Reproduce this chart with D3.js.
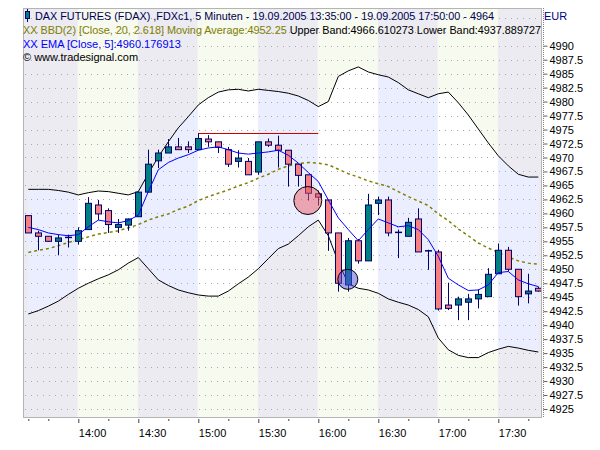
<!DOCTYPE html>
<html><head><meta charset="utf-8">
<script src="https://cdn.jsdelivr.net/npm/d3@7"></script>
<style>body{margin:0;background:#fff} svg{display:block} text{font-family:"Liberation Sans",Arial,sans-serif;font-size:11px}</style>
</head><body>
<svg id="c" width="600" height="450"></svg>
<script>
// ---------- data ----------
const times = ["13:35","13:40","13:45","13:50","13:55","14:00","14:05","14:10","14:15","14:20","14:25","14:30","14:35","14:40","14:45","14:50","14:55","15:00","15:05","15:10","15:15","15:20","15:25","15:30","15:35","15:40","15:45","15:50","15:55","16:00","16:05","16:10","16:15","16:20","16:25","16:30","16:35","16:40","16:45","16:50","16:55","17:00","17:05","17:10","17:15","17:20","17:25","17:30","17:35","17:40","17:45","17:50"];
const open  = [4959.6,4956.5,4955.9,4955.0,4955.7,4955.0,4957.1,4961.5,4960.5,4957.5,4957.9,4959.4,4963.8,4969.4,4970.8,4971.9,4971.9,4971.4,4973.3,4972.8,4971.4,4969.3,4969.3,4967.4,4972.8,4972.2,4971.3,4968.8,4966.9,4963.5,4962.4,4956.5,4947.2,4955.1,4951.5,4961.8,4962.4,4956.6,4955.9,4959.0,4953.3,4953.1,4943.6,4943.6,4944.1,4944.7,4945.1,4949.2,4953.4,4950.0,4945.6,4946.6];
const high  = [4959.6,4956.9,4955.9,4956.2,4956.2,4957.5,4962.9,4962.4,4960.9,4959.0,4959.1,4963.9,4971.4,4971.4,4973.3,4973.5,4972.9,4974.4,4974.0,4972.8,4971.9,4971.3,4969.9,4972.8,4973.4,4973.9,4971.3,4968.8,4966.9,4964.1,4962.4,4956.5,4955.6,4955.4,4963.5,4963.0,4963.0,4957.1,4959.2,4960.9,4953.5,4953.5,4947.6,4945.1,4945.6,4946.4,4950.2,4954.6,4954.0,4950.0,4949.2,4946.9];
const low   = [4956.5,4953.4,4955.0,4952.5,4953.9,4954.4,4957.1,4958.8,4956.5,4956.5,4956.9,4959.4,4963.8,4968.1,4970.8,4971.4,4970.8,4971.4,4971.9,4970.8,4968.3,4968.2,4966.9,4966.9,4971.9,4968.2,4964.8,4964.8,4962.3,4961.4,4953.3,4946.0,4946.0,4951.0,4951.5,4959.7,4955.9,4952.0,4955.9,4953.1,4949.9,4942.6,4942.7,4940.9,4940.9,4943.0,4945.1,4949.2,4949.6,4943.5,4943.9,4946.0];
const close = [4956.5,4955.9,4955.0,4955.6,4955.7,4956.9,4961.8,4959.9,4958.0,4958.0,4959.0,4963.8,4968.8,4970.8,4971.9,4971.4,4971.4,4973.4,4972.8,4971.8,4968.8,4969.9,4966.9,4972.8,4972.2,4971.3,4968.8,4966.8,4963.6,4962.9,4956.5,4947.5,4955.1,4951.5,4961.5,4962.4,4956.5,4956.6,4958.4,4953.1,4953.3,4942.9,4943.0,4944.7,4944.7,4945.5,4949.1,4953.4,4950.0,4945.1,4946.1,4946.1];
const ema   = [4957.5,4957.1,4956.5,4956.2,4956.0,4956.2,4957.6,4958.8,4958.5,4958.3,4958.7,4959.7,4963.9,4967.8,4969.1,4969.9,4970.5,4971.3,4971.7,4971.9,4971.4,4970.8,4970.6,4970.8,4971.0,4971.3,4970.4,4969.0,4967.3,4965.7,4962.4,4959.2,4957.1,4955.1,4957.1,4959.0,4958.3,4957.6,4957.8,4957.1,4955.3,4952.3,4948.4,4947.2,4946.2,4946.3,4947.2,4949.4,4949.6,4948.1,4947.4,4946.9];
const ma    = [4953.0,4953.4,4953.7,4954.2,4954.8,4955.3,4955.8,4956.3,4956.6,4956.9,4957.4,4958.0,4958.8,4959.4,4959.9,4960.7,4961.3,4962.3,4963.0,4963.6,4964.2,4964.9,4965.5,4966.3,4967.0,4967.9,4968.5,4968.9,4969.1,4969.0,4968.7,4967.9,4967.1,4966.5,4965.8,4965.3,4964.8,4963.9,4963.0,4962.2,4961.4,4959.9,4958.7,4957.2,4956.0,4954.7,4953.8,4953.0,4952.2,4951.5,4951.1,4950.9];
const upper = [4964.3,4964.3,4964.3,4964.1,4963.8,4963.3,4963.7,4964.0,4963.9,4963.6,4963.3,4963.9,4967.1,4970.1,4972.8,4975.3,4977.3,4979.4,4980.7,4981.7,4982.1,4982.2,4981.9,4982.2,4982.0,4981.8,4981.5,4981.0,4980.2,4979.1,4980.0,4984.5,4985.5,4986.2,4985.3,4984.8,4984.4,4983.4,4982.1,4981.4,4980.7,4981.4,4981.7,4979.8,4977.6,4975.1,4972.6,4970.3,4968.5,4967.0,4966.5,4966.5];
const lower = [4942.0,4942.6,4943.4,4944.3,4945.5,4946.6,4947.5,4948.3,4949.0,4949.9,4951.1,4952.1,4950.1,4948.1,4947.1,4946.3,4945.8,4945.4,4945.2,4945.2,4946.1,4947.4,4948.6,4950.1,4951.9,4953.7,4954.5,4956.0,4957.6,4958.8,4956.0,4951.3,4947.4,4946.6,4946.3,4945.7,4944.7,4944.1,4943.6,4942.8,4941.5,4937.7,4935.6,4934.6,4934.2,4934.2,4935.1,4935.7,4936.2,4935.9,4935.5,4935.2];
const xTickLabels = ["14:00","14:30","15:00","15:30","16:00","16:30","17:00","17:30"];
const xMinorTicks = ["13:35","13:45","14:15","14:45","15:15","15:45","16:15","16:45","17:15","17:45"];
const yTicks = [4925,4927.5,4930,4932.5,4935,4937.5,4940,4942.5,4945,4947.5,4950,4952.5,4955,4957.5,4960,4962.5,4965,4967.5,4970,4972.5,4975,4977.5,4980,4982.5,4985,4987.5,4990];
const gridValues = yTicks.concat([4992.5,4995]);
const hLine = {from:"15:00", to:"16:00", price:4974.4};
const markers = [{time:"15:55", price:4962.3, kind:"pink"},{time:"16:15", price:4948.2, kind:"blue"}];

// ---------- layout ----------
const svg = d3.select("#c");
const plot = {left:23, right:541, top:8, bottom:417};
const parse = d3.timeParse("%H:%M");
const x = d3.scaleTime().domain([parse(times[0]), parse(times[times.length-1])]).range([28.3, 538.3]);
const y = d3.scaleLinear().domain([4925, 4990]).range([409, 45.7]);
const X = t => x(parse(t));
const idx = d3.range(times.length);

const defs = svg.append("defs");
defs.append("clipPath").attr("id","plotClip").append("rect")
  .attr("x",plot.left).attr("y",plot.top).attr("width",plot.right-plot.left).attr("height",plot.bottom-plot.top);

// stripes
const edges = [plot.left].concat(xTickLabels.map(t => X(t)-0.5), [plot.right]);
const stripes = d3.range(edges.length-1).map(i => ({x0:edges[i], x1:edges[i+1], gray: i%2===0}));
svg.append("rect").attr("x",0).attr("y",0).attr("width",600).attr("height",450).attr("fill","#fff");
svg.append("g").selectAll("rect").data(stripes).join("rect")
  .attr("x",d=>d.x0).attr("y",plot.top).attr("width",d=>d.x1-d.x0).attr("height",plot.bottom-plot.top)
  .attr("fill",d=>d.gray?"#EBEBF1":"#F7FAEF");

["gray","green"].forEach(k=>{
  const cp = defs.append("clipPath").attr("id","clip-"+k);
  cp.selectAll("rect").data(stripes.filter(s=> (k==="gray")===s.gray)).join("rect")
    .attr("x",d=>d.x0).attr("y",plot.top).attr("width",d=>d.x1-d.x0).attr("height",plot.bottom-plot.top);
});
const bandArea = d3.area().x(i=>X(times[i])).y0(i=>y(lower[i])).y1(i=>y(upper[i]));
svg.append("path").datum(idx).attr("d",bandArea).attr("fill","#EAEEFE").attr("clip-path","url(#clip-gray)");
svg.append("path").datum(idx).attr("d",bandArea).attr("fill","#FFFFFF").attr("clip-path","url(#clip-green)");

// grid
svg.append("g").selectAll("line").data(gridValues).join("line")
  .attr("x1",plot.left+2).attr("x2",plot.right).attr("y1",d=>Math.round(y(d))+0.5).attr("y2",d=>Math.round(y(d))+0.5)
  .attr("stroke","#A8A8B0").attr("stroke-width",1).attr("stroke-dasharray","1,5");

// frame
svg.append("rect").attr("x",plot.left+0.5).attr("y",plot.top+0.5).attr("width",plot.right-plot.left).attr("height",plot.bottom-plot.top)
  .attr("fill","none").attr("stroke","#B4B4B4");

const gPlot = svg.append("g").attr("clip-path","url(#plotClip)");
const line = arr => d3.line().x(i=>X(times[i])).y(i=>y(arr[i]));
gPlot.append("path").datum(idx).attr("d",line(upper)).attr("fill","none").attr("stroke","#000").attr("stroke-width",1);
gPlot.append("path").datum(idx).attr("d",line(lower)).attr("fill","none").attr("stroke","#000").attr("stroke-width",1);
gPlot.append("path").datum(idx).attr("d",line(ma)).attr("fill","none").attr("stroke","#808000").attr("stroke-width",1.5).attr("stroke-dasharray","3,3");

// candles
const navy = "#000070";
const cg = gPlot.append("g");
cg.selectAll("line.w").data(idx).join("line").attr("class","w")
  .attr("x1",i=>Math.round(X(times[i]))+0.5).attr("x2",i=>Math.round(X(times[i]))+0.5)
  .attr("y1",i=>y(high[i])).attr("y2",i=>y(low[i])).attr("stroke",navy).attr("stroke-width",1);
cg.selectAll("rect.b").data(idx.filter(i=>Math.abs(open[i]-close[i])>0.05)).join("rect").attr("class","b")
  .attr("x",i=>Math.round(X(times[i]))-2.5).attr("width",6)
  .attr("y",i=>y(Math.max(open[i],close[i]))).attr("height",i=>Math.abs(y(open[i])-y(close[i])))
  .attr("fill",i=>close[i]>open[i]?"#008080":"#F88080").attr("stroke",navy).attr("stroke-width",1);
cg.selectAll("line.d").data(idx.filter(i=>Math.abs(open[i]-close[i])<=0.05)).join("line").attr("class","d")
  .attr("x1",i=>Math.round(X(times[i]))-3).attr("x2",i=>Math.round(X(times[i]))+4)
  .attr("y1",i=>y(open[i])).attr("y2",i=>y(open[i])).attr("stroke",navy).attr("stroke-width",1.5);

// EMA
gPlot.append("path").datum(idx).attr("d",line(ema)).attr("fill","none").attr("stroke","#0000FF").attr("stroke-width",1);

// horizontal level
gPlot.append("line").attr("x1",X(hLine.from)).attr("x2",X(hLine.to)).attr("y1",Math.round(y(hLine.price))+0.5).attr("y2",Math.round(y(hLine.price))+0.5)
  .attr("stroke","#D00000").attr("stroke-width",1);

// markers
gPlot.selectAll("circle").data(markers).join("circle")
  .attr("cx",d=>X(d.time)-0.5).attr("cy",d=>y(d.price)).attr("r",d=>d.kind==="pink"?14:10)
  .attr("fill",d=>d.kind==="pink"?"rgba(235,90,100,0.5)":"rgba(80,80,225,0.5)").attr("stroke","#000").attr("stroke-width",1);

// right axis
svg.append("line").attr("x1",543.5).attr("x2",543.5).attr("y1",plot.top).attr("y2",plot.bottom)
  .attr("stroke","#808080").attr("stroke-dasharray","1,1");
const ay = svg.append("g").attr("transform","translate(543.5,0)")
  .call(d3.axisRight(y).tickValues(yTicks).tickSize(4).tickPadding(2).tickFormat(d=> d%1===0? String(d): d.toFixed(1)));
ay.select(".domain").remove();
ay.selectAll(".tick line").attr("stroke","#606060");
ay.selectAll("text").attr("fill","#000").style("font-family","'Liberation Sans',Arial,sans-serif").style("font-size","11px");

// bottom axis
const ax = svg.append("g").attr("transform","translate(0,419)")
  .call(d3.axisBottom(x).tickValues(xTickLabels.map(parse)).tickSize(4).tickFormat(d3.timeFormat("%H:%M")));
ax.select(".domain").remove();
ax.selectAll(".tick line").attr("stroke","#404040");
ax.selectAll("text").attr("text-anchor","start").attr("y",18).attr("dy",null).attr("fill","#000")
  .style("font-family","'Liberation Sans',Arial,sans-serif").style("font-size","11px");
const axm = svg.append("g").attr("transform","translate(0,419)")
  .call(d3.axisBottom(x).tickValues(xMinorTicks.map(parse)).tickSize(2).tickFormat(""));
axm.select(".domain").remove();
axm.selectAll(".tick line").attr("stroke","#404040");

// legend
const lg = svg.append("g");
lg.append("line").attr("x1",27.5).attr("x2",27.5).attr("y1",9).attr("y2",22).attr("stroke",navy);
lg.append("rect").attr("x",25.5).attr("y",11.5).attr("width",4).attr("height",7).attr("fill","#008080").attr("stroke",navy);
lg.append("text").attr("x",35).attr("y",20).attr("fill","#000050")
  .attr("textLength",459).attr("lengthAdjust","spacingAndGlyphs")
  .text("DAX FUTURES (FDAX) ,FDXc1, 5 Minuten - 19.09.2005 13:35:00 - 19.09.2005 17:50:00 - 4964");
lg.append("text").attr("x",544).attr("y",20).attr("fill","#000080").text("EUR");
const t2 = lg.append("text").attr("x",23).attr("y",34).attr("textLength",518).attr("lengthAdjust","spacingAndGlyphs");
t2.append("tspan").attr("fill","#808000").text("XX BBD(2) [Close, 20, 2.618] Moving Average:4952.25");
t2.append("tspan").attr("fill","#000").text(" Upper Band:4966.610273 Lower Band:4937.889727");
lg.append("text").attr("x",23).attr("y",47.5).attr("fill","#0000FF").text("XX EMA [Close, 5]:4960.176913");
lg.append("text").attr("x",23).attr("y",61).attr("fill","#000").text("\u00A9 www.tradesignal.com");
</script>
</body></html>
